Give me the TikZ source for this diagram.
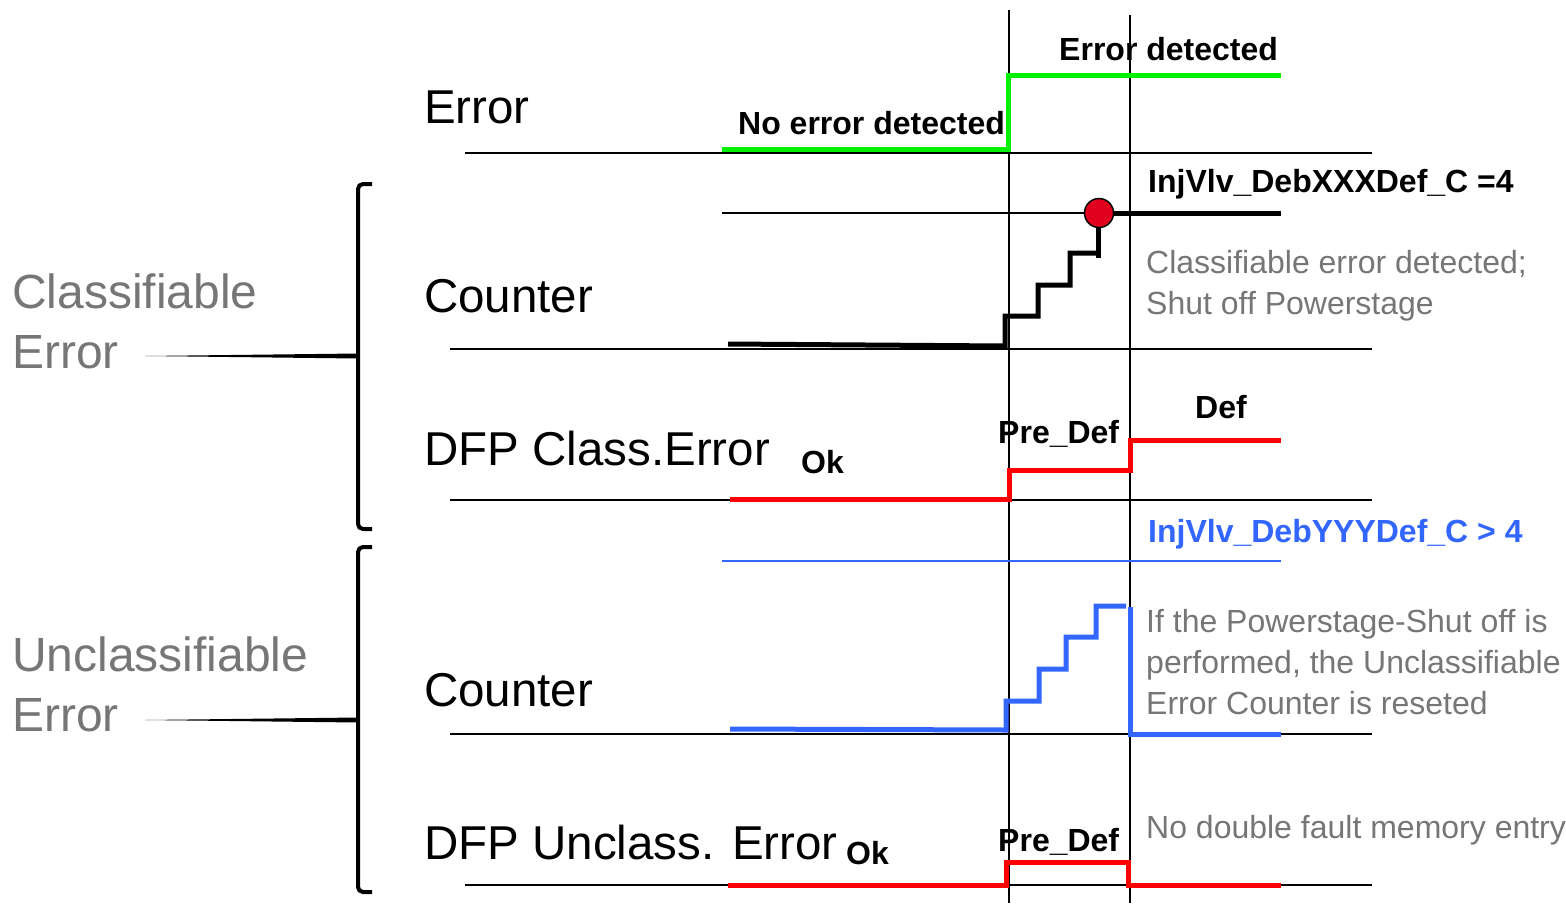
\documentclass[tikz,border=0pt]{standalone}
\usepackage{fontspec}
\setmainfont{Liberation Sans}
\definecolor{sigred}{RGB}{255,0,0}
\definecolor{siggreen}{RGB}{0,240,0}
\definecolor{sigblue}{RGB}{51,102,255}
\definecolor{notegray}{RGB}{118,118,118}
\definecolor{dotred}{RGB}{225,0,30}
\begin{document}
\begin{tikzpicture}[x=1pt, y=-1pt,
  axis/.style={line width=1.5pt},
  tline/.style={line width=1.8pt},
  sig/.style={line width=5pt},
  rowlbl/.style={anchor=base west, inner sep=0pt, font=\fontsize{47.5}{56}\selectfont},
  grouplbl/.style={anchor=base west, inner sep=0pt, text=notegray, font=\fontsize{48}{56}\selectfont},
  val/.style={anchor=base west, inner sep=0pt, font=\fontsize{32}{38}\selectfont\bfseries},
  note/.style={anchor=base west, inner sep=0pt, text=notegray, font=\fontsize{32}{38}\selectfont},
  brace/.style={line width=4pt, rounded corners=5pt}]
\useasboundingbox (0,0) rectangle (1566,903);
% time markers
\coordinate (t1top) at (1009,10);
\coordinate (t1bot) at (1009,903);
\coordinate (t2top) at (1130,15);
\coordinate (t2bot) at (1130,903);
\draw[tline] (t1top) -- (t1bot);
\draw[tline] (t2top) -- (t2bot);
% Error
\node[rowlbl] (errlbl) at (424,123) {Error};
\draw[axis] (465,153) -- (1372,153);
\draw[sig, siggreen] (722,149) -- (1008,149) -- (1008,75) -- (1281,75);
\node[val] (noerr) at (738,134) {No error detected};
\node[val] (errdet) at (1059,60) {Error detected};
% Counter (classifiable)
\node[rowlbl] (cntlbl) at (424,312) {Counter};
\draw[axis] (450,349) -- (1372,349);
\draw[axis] (722,213) -- (1100,213);
\draw[sig] (1100,213) -- (1281,213);
\draw[sig] (728,344) -- (1005,346) -- (1005,316) -- (1038,316) -- (1038,285)
  -- (1070,285) -- (1070,253) -- (1098,253);
\draw[sig] (1098,258) -- (1098,213);
\node[circle, draw, line width=1.5pt, fill=dotred, minimum size=29pt] (thrdot) at (1099,213) {};
\node[val] (thrxxx) at (1148,192) {InjVlv\_DebXXXDef\_C =4};
\node[note] (clsnote1) at (1146,273) {Classifiable error detected;};
\node[note] (clsnote2) at (1146,314) {Shut off Powerstage};
% DFP Class.Error
\node[rowlbl] (dfpclbl) at (424,465) {DFP Class.Error};
\node[val] (okc) at (801,473) {Ok};
\draw[axis] (450,500) -- (1372,500);
\draw[sig, sigred] (730,499) -- (1009,499) -- (1009,470) -- (1130,470) -- (1130,440) -- (1281,440);
\node[val] (predefc) at (998,443) {Pre\_Def};
\node[val] (defc) at (1195,418) {Def};
% Counter (unclassifiable)
\draw[line width=1.5pt, sigblue] (722,561) -- (1281,561);
\node[val, text=sigblue] (thryyy) at (1148,542) {InjVlv\_DebYYYDef\_C > 4};
\node[rowlbl] (cntulbl) at (424,706) {Counter};
\draw[axis] (450,734) -- (1372,734);
\draw[sig, sigblue] (730,729) -- (1006,730) -- (1006,701) -- (1039,701) -- (1039,669)
  -- (1066,669) -- (1066,637) -- (1096,637) -- (1096,606) -- (1126,606);
\draw[sig, sigblue] (1130,607) -- (1130,734) -- (1281,734);
\node[note] (uclnote1) at (1146,632) {If the Powerstage-Shut off is};
\node[note] (uclnote2) at (1146,673) {performed, the Unclassifiable};
\node[note] (uclnote3) at (1146,714) {Error Counter is reseted};
% DFP Unclass. Error
\node[rowlbl] (dfpulbl) at (424,859) {DFP Unclass. Error};
\node[val] (oku) at (846,864) {Ok};
\draw[axis] (465,885) -- (1372,885);
\draw[sig, sigred] (728,885) -- (1006,885) -- (1006,862) -- (1128,862) -- (1128,885) -- (1281,885);
\node[val] (predefu) at (998,851) {Pre\_Def};
\node[note] (dblnote) at (1146,838) {No double fault memory entry};
% groups
\draw[brace] (372,184) -- (358,184) -- (358,529) -- (372,529);
\fill (145,356) -- (358,353.5) -- (358,358.5) -- cycle;
\node[grouplbl] (clsgrp1) at (12,308) {Classifiable};
\node[grouplbl] (clsgrp2) at (12,368) {Error};
\draw[brace] (372,547) -- (358,547) -- (358,892) -- (372,892);
\fill (145,720) -- (358,717.5) -- (358,722.5) -- cycle;
\node[grouplbl] (uclgrp1) at (12,671) {Unclassifiable};
\node[grouplbl] (uclgrp2) at (12,731) {Error};
\end{tikzpicture}
\end{document}
